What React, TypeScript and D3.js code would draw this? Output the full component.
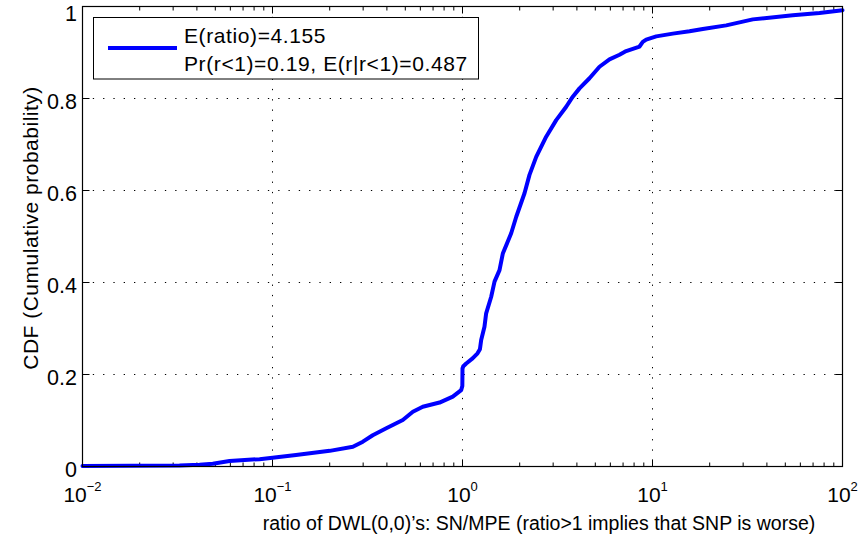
import React from "react";
import * as d3 from "d3";

const ratio = [0.01, 0.0324, 0.0413, 0.0485, 0.0594, 0.0855, 0.1, 0.133, 0.2, 0.265, 0.299, 0.337, 0.397, 0.485, 0.548, 0.618, 0.757, 0.889, 0.984, 0.998, 1.0, 1.01, 1.046, 1.13, 1.2, 1.235, 1.254, 1.305, 1.332, 1.416, 1.474, 1.566, 1.63, 1.804, 1.918, 2.12, 2.252, 2.443, 2.757, 3.113, 3.514, 3.806, 4.129, 4.66, 5.261, 5.938, 6.704, 7.27, 8.544, 8.89, 9.265, 10.46, 12.79, 15.66, 18.4, 24.43, 33.72, 54.74, 75.66, 100];
const cdf = [0.001, 0.002, 0.004, 0.006, 0.012, 0.016, 0.019, 0.025, 0.034, 0.043, 0.054, 0.068, 0.083, 0.101, 0.119, 0.13, 0.139, 0.152, 0.166, 0.175, 0.213, 0.218, 0.224, 0.235, 0.246, 0.255, 0.275, 0.304, 0.333, 0.369, 0.402, 0.427, 0.463, 0.507, 0.543, 0.594, 0.634, 0.673, 0.717, 0.753, 0.782, 0.804, 0.822, 0.844, 0.869, 0.885, 0.895, 0.903, 0.913, 0.923, 0.928, 0.935, 0.941, 0.946, 0.951, 0.959, 0.972, 0.981, 0.986, 0.992];

const xTickExps = [-2, -1, 0, 1, 2];
const yTicks = [0, 0.2, 0.4, 0.6, 0.8, 1];
const yTickLabels = ["0", "0.2", "0.4", "0.6", "0.8", "1"];
const legendLines = ["E(ratio)=4.155", "Pr(r<1)=0.19, E(r|r<1)=0.487"];
const xLabel = "ratio of DWL(0,0)\u2019s: SN/MPE (ratio>1 implies that SNP is worse)";
const yLabel = "CDF (Cumulative probability)";

const W = 860, H = 539;
const L = 82.5, R = 842.5, T = 6.5, B = 466.5;
const FONT = "'Liberation Sans', Arial, Helvetica, sans-serif";

export default function App() {
  const x = d3.scaleLog().domain([0.01, 100]).range([L, R]);
  const y = d3.scaleLinear().domain([0, 1]).range([B, T]);
  const pts: [number, number][] = ratio.map((r, i) => [r, cdf[i]]);
  const line = d3.line<[number, number]>().x(d => x(d[0])).y(d => y(d[1]));

  const minor: number[] = [];
  for (let e = -2; e < 2; e++) for (let m = 2; m <= 9; m++) minor.push(m * Math.pow(10, e));

  const dash = "1.3,9";
  return (
    <svg width={W} height={H} style={{ position: "absolute", left: 0, top: 0, background: "#fff" }} fontFamily={FONT}>
      <rect x={0} y={0} width={W} height={H} fill="#fff" />
      {xTickExps.slice(1, -1).map(e => (
        <line key={"gx" + e} x1={x(Math.pow(10, e))} x2={x(Math.pow(10, e))} y1={T} y2={B} stroke="#000" strokeWidth={1} strokeDasharray={dash} />
      ))}
      {yTicks.slice(1, -1).map(v => (
        <line key={"gy" + v} x1={L} x2={R} y1={y(v)} y2={y(v)} stroke="#000" strokeWidth={1} strokeDasharray={dash} />
      ))}
      {minor.map(v => (
        <g key={"mn" + v}>
          <line x1={x(v)} x2={x(v)} y1={B} y2={B - 4} stroke="#000" />
          <line x1={x(v)} x2={x(v)} y1={T} y2={T + 4} stroke="#000" />
        </g>
      ))}
      {xTickExps.map(e => (
        <g key={"mj" + e}>
          <line x1={x(Math.pow(10, e))} x2={x(Math.pow(10, e))} y1={B} y2={B - 7} stroke="#000" />
          <line x1={x(Math.pow(10, e))} x2={x(Math.pow(10, e))} y1={T} y2={T + 7} stroke="#000" />
        </g>
      ))}
      {yTicks.map(v => (
        <g key={"yt" + v}>
          <line x1={L} x2={L + 7} y1={y(v)} y2={y(v)} stroke="#000" />
          <line x1={R} x2={R - 7} y1={y(v)} y2={y(v)} stroke="#000" />
        </g>
      ))}
      <path d={line(pts) || ""} fill="none" stroke="#0000ff" strokeWidth={4} strokeLinejoin="round" strokeLinecap="round" />
      <rect x={L} y={T} width={R - L} height={B - T} fill="none" stroke="#000" strokeWidth={1.2} />
      {yTicks.map((v, i) => (
        <text key={"yl" + v} x={L - 5.5} y={Math.max(y(v) + 10, 20.5)} textAnchor="end" fontSize={21.5} fill="#000">{yTickLabels[i]}</text>
      ))}
      {xTickExps.map(e => (
        <text key={"xl" + e} x={x(Math.pow(10, e))} y={502} textAnchor="middle" fontSize={21} fill="#000">
          10<tspan fontSize={13} dy={-11}>{e < 0 ? "\u2212" + Math.abs(e) : String(e)}</tspan>
        </text>
      ))}
      <text x={539} y={530} textAnchor="middle" fontSize={19.5} fill="#000">{xLabel}</text>
      <text transform={`translate(38,228) rotate(-90)`} textAnchor="middle" fontSize={21} letterSpacing={0.5} fill="#000">{yLabel}</text>
      <rect x={93.5} y={17.5} width={385} height={61.5} fill="#fff" stroke="#000" strokeWidth={1} />
      <line x1={108} x2={177} y1={48} y2={48} stroke="#0000ff" strokeWidth={4} />
      <text x={184} y={42.5} fontSize={21} letterSpacing={0.6} fill="#000">{legendLines[0]}</text>
      <text x={184} y={70.5} fontSize={21} letterSpacing={0.6} fill="#000">{legendLines[1]}</text>
    </svg>
  );
}
